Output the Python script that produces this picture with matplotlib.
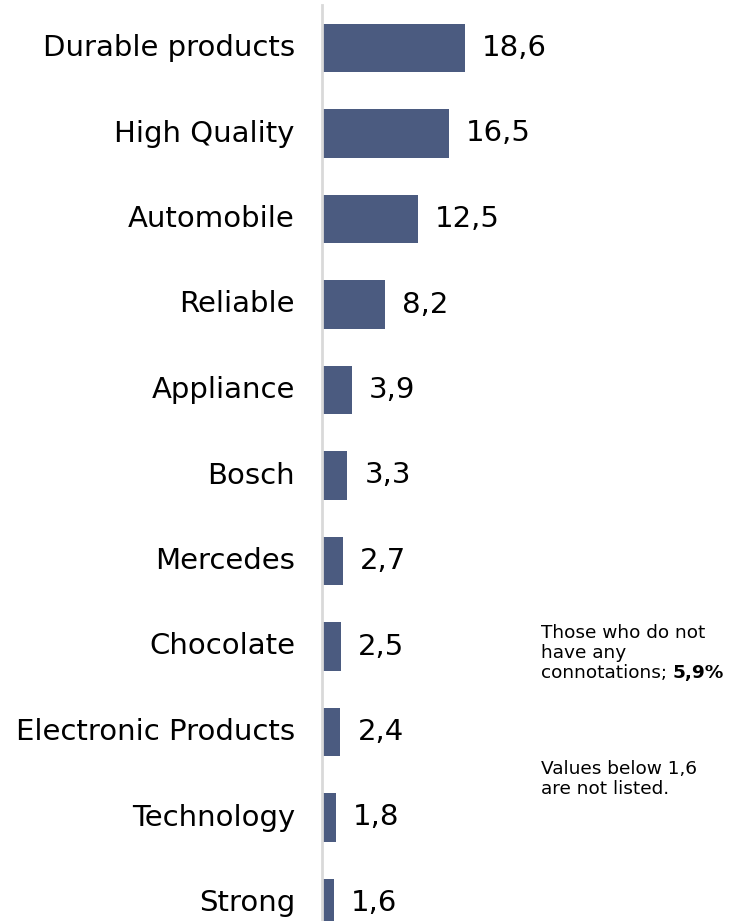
import matplotlib.pyplot as plt
import numpy as np

# Data
categories = ['Durable products', 'High Quality', 'Automobile', 'Reliable', 'Appliance',
              'Bosch', 'Mercedes', 'Chocolate', 'Electronic Products', 'Technology', 'Strong']
values = [18.6, 16.5, 12.5, 8.2, 3.9, 3.3, 2.7, 2.5, 2.4, 1.8, 1.6]
value_labels = ['18,6', '16,5', '12,5', '8,2', '3,9', '3,3', '2,7', '2,5', '2,4', '1,8', '1,6']

W, H = 736, 921
fig = plt.figure(figsize=(W / 100, H / 100), dpi=100)

# axes: left edge at the vertical line, full height down to bottom
ax = fig.add_axes([322 / W, 0, 1 - 322 / W, (H - 5) / H])

y = np.arange(len(categories))
ax.barh(y, values, height=0.573, color='#4b5b80')

px_per_unit = 7.69
ax.set_xlim(0, (W - 322) / px_per_unit)
ax.set_ylim(len(categories) - 1 + 18 / 85.5, -43 / 85.5)

for yi, v, lab in zip(y, values, value_labels):
    ax.text(v + 17 / px_per_unit, yi, lab, va='center', ha='left', fontsize=21, color='black')

for yi, cat in zip(y, categories):
    ax.text(-27 / px_per_unit, yi, cat, va='center', ha='right', fontsize=21, color='black')

for s in ['top', 'right', 'bottom']:
    ax.spines[s].set_visible(False)
ax.spines['left'].set_color('#d9d9d9')
ax.spines['left'].set_linewidth(2)
ax.set_xticks([])
ax.set_yticks([])

# side notes, one line at a time (baselines in pixels from top)
fs = 13.3
x0 = 541 / W
fig.text(x0, 1 - 638 / H, 'Those who do not', fontsize=fs, va='baseline', ha='left')
fig.text(x0, 1 - 658 / H, 'have any', fontsize=fs, va='baseline', ha='left')
last = fig.text(x0, 1 - 678 / H, 'connotations;', fontsize=fs, va='baseline', ha='left')
ax.annotate('5,9%', xy=(1, 0), xycoords=last, xytext=(4, 0), textcoords='offset points',
            fontsize=fs, fontweight='bold', va='bottom', ha='left', annotation_clip=False)
fig.text(x0, 1 - 774 / H, 'Values below 1,6', fontsize=fs, va='baseline', ha='left')
fig.text(x0, 1 - 794 / H, 'are not listed.', fontsize=fs, va='baseline', ha='left')

fig.savefig('out.png', dpi=100)
